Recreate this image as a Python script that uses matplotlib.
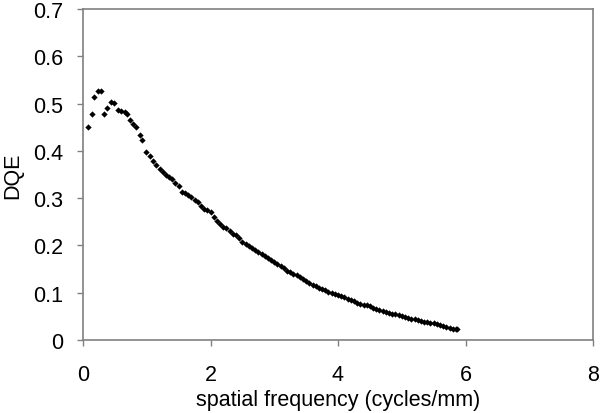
import matplotlib
matplotlib.use("Agg")
import matplotlib.pyplot as plt

freq = [0.083, 0.146, 0.178, 0.23, 0.287, 0.324, 0.376, 0.44, 0.49, 0.543,
        0.596, 0.659, 0.69, 0.742, 0.784, 0.836, 0.89, 0.93, 0.983, 1.046,
        1.10, 1.15, 1.20, 1.25, 1.30, 1.35, 1.40, 1.45, 1.50, 1.55,
        1.60, 1.65, 1.70, 1.75, 1.80, 1.85, 1.90, 1.95, 2.00, 2.05,
        2.10, 2.15, 2.20, 2.25, 2.30, 2.35, 2.40, 2.45, 2.50, 2.55,
        2.60, 2.65, 2.70, 2.75, 2.80, 2.85, 2.90, 2.95, 3.00, 3.05,
        3.10, 3.15, 3.20, 3.25, 3.30, 3.35, 3.40, 3.45, 3.50, 3.55,
        3.60, 3.65, 3.70, 3.75, 3.80, 3.85, 3.90, 3.95, 4.00, 4.05,
        4.10, 4.15, 4.20, 4.25, 4.30, 4.35, 4.40, 4.45, 4.50, 4.55,
        4.60, 4.65, 4.70, 4.75, 4.80, 4.85, 4.90, 4.95, 5.00, 5.05,
        5.10, 5.15, 5.20, 5.25, 5.30, 5.35, 5.40, 5.45, 5.50, 5.55,
        5.60, 5.65, 5.70, 5.75, 5.80, 5.85, 5.87]
dqe = [0.451, 0.479, 0.514, 0.526, 0.526, 0.479, 0.490, 0.503, 0.501, 0.487,
       0.484, 0.483, 0.479, 0.465, 0.456, 0.451, 0.433, 0.424, 0.398, 0.390,
       0.378, 0.370, 0.362, 0.356, 0.350, 0.345, 0.340, 0.333, 0.325, 0.314,
       0.310, 0.306, 0.303, 0.297, 0.291, 0.283, 0.277, 0.274, 0.270, 0.260,
       0.251, 0.245, 0.240, 0.236, 0.230, 0.225, 0.221, 0.215, 0.208, 0.203,
       0.199, 0.194, 0.190, 0.186, 0.182, 0.177, 0.174, 0.170, 0.165, 0.161,
       0.157, 0.152, 0.146, 0.143, 0.140, 0.138, 0.133, 0.128, 0.124, 0.120,
       0.117, 0.114, 0.111, 0.108, 0.105, 0.102, 0.100, 0.098, 0.095, 0.093,
       0.090, 0.087, 0.084, 0.082, 0.079, 0.077, 0.075, 0.073, 0.071, 0.068,
       0.066, 0.063, 0.061, 0.059, 0.057, 0.056, 0.054, 0.052, 0.051, 0.049,
       0.047, 0.045, 0.044, 0.042, 0.041, 0.039, 0.038, 0.036, 0.035, 0.033,
       0.032, 0.030, 0.028, 0.026, 0.024, 0.023, 0.024]

xticks = [0, 2, 4, 6, 8]
yticks = [0, 0.1, 0.2, 0.3, 0.4, 0.5, 0.6, 0.7]
ytick_labels = ["0", "0.1", "0.2", "0.3", "0.4", "0.5", "0.6", "0.7"]

plt.rcParams['font.family'] = ['Liberation Sans', 'DejaVu Sans']

fig = plt.figure(figsize=(6, 4.14), dpi=100)
ax = fig.add_axes([83/600, 1-341/414, 510/600, 331/414])
ax.plot(freq, dqe, linestyle='none', marker='D', markersize=3.2,
        color='black', markeredgewidth=0)
ax.set_xlim(0, 8)
ax.set_ylim(0, 0.7)
ax.set_xticks(xticks)
ax.set_xticklabels([str(t) for t in xticks])
ax.set_yticks(yticks)
ax.set_yticklabels(ytick_labels)
for s in ax.spines.values():
    s.set_color('#808080')
    s.set_linewidth(1.2)
ax.tick_params(axis='both', direction='out', length=4.5, width=1.0,
               color='#808080', labelsize=15.5, labelcolor='black')
ax.tick_params(axis='y', pad=10)
ax.tick_params(axis='x', pad=13)
ax.set_xlabel('spatial frequency (cycles/mm)', fontsize=15.5, labelpad=3)
ax.set_ylabel('DQE', fontsize=15.5, labelpad=7)
fig.savefig('out.png', dpi=100)
